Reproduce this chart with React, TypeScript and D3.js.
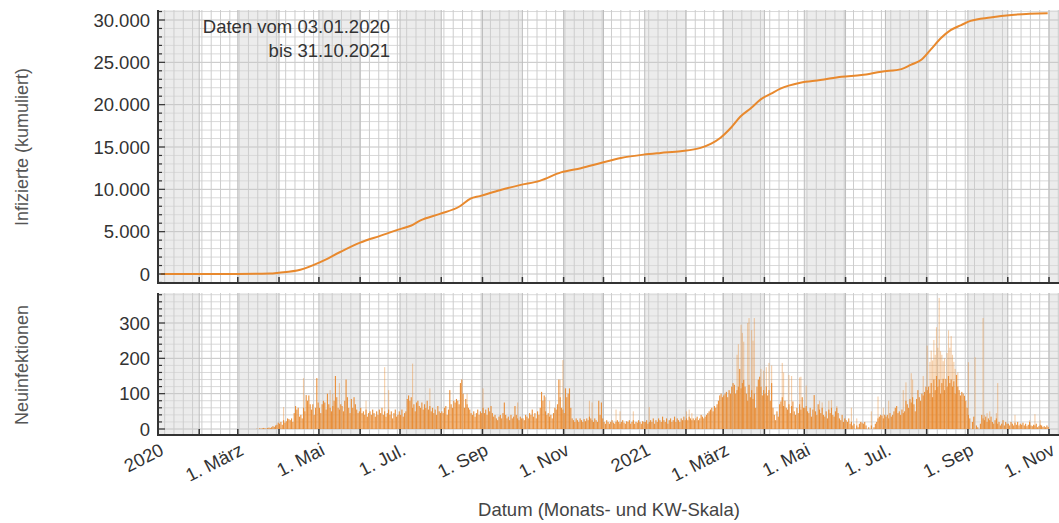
import React from 'react';
import * as d3 from 'd3';

const W = 1059;
const H = 523;
const FONT = '"Liberation Sans", Arial, sans-serif';

// kumulierte Infizierte
const kumDatum = [
  '2020-01-03', '2020-03-01', '2020-03-25', '2020-04-01', '2020-04-17', '2020-05-02', '2020-05-17',
  '2020-06-01', '2020-06-16', '2020-07-01', '2020-07-09', '2020-07-16', '2020-07-31', '2020-08-15',
  '2020-08-23', '2020-08-30', '2020-09-14', '2020-09-29', '2020-10-14', '2020-10-30', '2020-11-14',
  '2020-11-29', '2020-12-14', '2020-12-31', '2021-01-13', '2021-01-28', '2021-02-12', '2021-02-20',
  '2021-02-27', '2021-03-07', '2021-03-14', '2021-03-22', '2021-03-29', '2021-04-06', '2021-04-13',
  '2021-04-28', '2021-05-13', '2021-05-29', '2021-06-13', '2021-06-28', '2021-07-13', '2021-07-20',
  '2021-07-28', '2021-08-04', '2021-08-12', '2021-08-19', '2021-08-27', '2021-09-03', '2021-09-18',
  '2021-10-04', '2021-10-31',
];
const kumWert = [
  0, 5, 50, 150, 500, 1400, 2600,
  3700, 4500, 5300, 5700, 6300, 7100, 8000,
  8900, 9200, 9900, 10500, 11000, 12000, 12500,
  13100, 13700, 14100, 14300, 14500, 14900, 15400,
  16100, 17300, 18600, 19600, 20600, 21300, 21900,
  22600, 22900, 23300, 23500, 23900, 24200, 24700,
  25300, 26500, 27900, 28800, 29400, 29900, 30300,
  30600, 30800,
];

// Neuinfektionen pro Tag, je Monat ab dem 1.
const neuMonate = [
  '2020-03', '2020-04', '2020-05', '2020-06', '2020-07', '2020-08', '2020-09', '2020-10', '2020-11', '2020-12',
  '2021-01', '2021-02', '2021-03', '2021-04', '2021-05', '2021-06', '2021-07', '2021-08', '2021-09', '2021-10',
];
const neuWerte = [
  [0, 0, 0, 0, 0, 0, 0, 0, 0, 0, 0, 0, 0, 0, 1, 0, 2, 1, 2, 3, 2, 1, 3, 4, 3, 5, 8, 6, 10, 12, 18],
  [15, 20, 12, 25, 18, 22, 30, 28, 25, 30, 20, 45, 65, 55, 60, 35, 40, 30, 60, 50, 96, 80, 95, 70, 55, 70, 40, 60, 144, 75],
  [60, 45, 70, 80, 75, 55, 100, 70, 60, 50, 65, 80, 150, 90, 60, 55, 70, 65, 50, 80, 140, 90, 60, 45, 85, 60, 90, 70, 55, 45, 50],
  [60, 45, 50, 40, 55, 35, 45, 50, 40, 55, 45, 35, 50, 40, 55, 45, 60, 40, 50, 35, 45, 55, 40, 50, 30, 45, 55, 35, 40, 50],
  [40, 55, 35, 45, 50, 85, 95, 80, 90, 60, 70, 50, 75, 80, 65, 60, 75, 55, 70, 60, 80, 55, 65, 50, 60, 45, 55, 40, 65, 50, 45],
  [50, 45, 60, 65, 40, 55, 110, 70, 60, 80, 75, 85, 80, 70, 130, 140, 100, 60, 85, 70, 60, 55, 45, 40, 50, 35, 45, 55, 40, 50, 45],
  [60, 45, 55, 40, 60, 50, 65, 45, 35, 40, 30, 25, 35, 40, 30, 45, 75, 40, 30, 35, 25, 40, 30, 35, 65, 40, 30, 25, 35, 30],
  [30, 25, 40, 35, 30, 45, 40, 55, 35, 45, 30, 50, 40, 60, 105, 80, 95, 50, 40, 45, 35, 40, 30, 45, 60, 55, 70, 140, 90, 60, 55],
  [45, 115, 90, 100, 115, 60, 30, 25, 20, 30, 25, 20, 30, 25, 20, 28, 22, 30, 25, 35, 30, 25, 20, 30, 25, 20, 80, 40, 75, 30],
  [20, 15, 25, 20, 15, 20, 25, 18, 15, 20, 25, 20, 15, 20, 25, 18, 15, 22, 20, 25, 15, 20, 25, 15, 20, 18, 25, 20, 15, 22, 20],
  [20, 25, 15, 20, 25, 20, 30, 15, 25, 20, 30, 25, 20, 35, 25, 20, 30, 15, 25, 30, 20, 25, 35, 20, 30, 25, 20, 30, 25, 35, 25],
  [30, 25, 35, 30, 25, 30, 25, 30, 35, 25, 30, 40, 35, 30, 35, 40, 45, 50, 55, 60, 50, 65, 60, 70, 80, 95, 100, 90],
  [95, 100, 105, 90, 110, 100, 120, 130, 125, 100, 110, 120, 170, 115, 130, 139, 120, 100, 80, 125, 90, 110, 85, 100, 60, 120, 140, 148, 120, 95, 110],
  [100, 120, 95, 110, 80, 130, 60, 40, 25, 50, 35, 70, 78, 90, 65, 80, 60, 55, 70, 45, 65, 78, 50, 40, 60, 45, 70, 55, 90, 60],
  [60, 65, 50, 45, 60, 35, 55, 96, 50, 40, 70, 55, 45, 60, 40, 35, 50, 30, 55, 45, 60, 40, 35, 50, 60, 45, 30, 25, 40, 20, 30],
  [25, 20, 30, 15, 20, 10, 15, 0, 10, 5, 15, 20, 18, 15, 20, 10, 0, 5, 0, 10, 0, 5, 15, 20, 30, 35, 40, 38, 30, 40],
  [35, 40, 30, 45, 35, 40, 50, 60, 65, 45, 50, 40, 55, 45, 50, 80, 70, 60, 85, 75, 90, 70, 50, 85, 110, 90, 80, 100, 95, 105, 120],
  [110, 120, 100, 130, 90, 140, 110, 150, 120, 140, 100, 130, 142, 110, 142, 120, 150, 130, 140, 120, 135, 100, 153, 120, 110, 95, 105, 100, 94, 80, 60],
  [40, 30, 0, 20, 35, 0, 10, 5, 0, 15, 40, 30, 25, 35, 20, 30, 25, 35, 20, 15, 25, 30, 15, 20, 10, 15, 25, 10, 20, 15],
  [15, 10, 20, 15, 10, 18, 12, 20, 10, 15, 12, 18, 10, 15, 8, 12, 20, 10, 8, 12, 10, 15, 5, 8, 12, 10, 6, 8, 5, 10, 6],
];

// hellere Balken (Tage mit höheren Meldewerten)
const hellDatum = [
  '2020-04-04', '2020-04-19', '2020-05-09', '2020-05-11', '2020-05-16', '2020-06-05', '2020-06-19', '2020-06-22',
  '2020-07-10', '2020-07-23', '2020-08-20', '2020-09-01', '2020-09-27', '2020-10-18', '2020-10-21', '2020-10-29',
  '2020-10-31', '2020-11-20', '2020-11-22', '2020-12-10', '2020-12-13', '2020-12-23',
  '2021-01-04', '2021-02-01', '2021-02-03', '2021-02-05', '2021-03-11', '2021-03-12', '2021-03-14', '2021-03-15',
  '2021-03-16', '2021-03-19', '2021-03-20', '2021-03-22', '2021-03-23', '2021-03-24', '2021-03-29', '2021-03-31',
  '2021-04-02', '2021-04-04', '2021-04-06', '2021-04-14', '2021-04-15', '2021-04-19', '2021-04-21', '2021-04-27',
  '2021-04-28', '2021-05-02', '2021-05-12', '2021-05-14', '2021-05-19', '2021-05-21', '2021-05-25', '2021-06-05',
  '2021-06-09', '2021-06-20', '2021-06-25', '2021-06-29', '2021-07-03', '2021-07-14', '2021-07-16', '2021-07-20',
  '2021-07-21', '2021-07-29', '2021-08-01', '2021-08-03', '2021-08-04', '2021-08-05', '2021-08-06', '2021-08-07',
  '2021-08-08', '2021-08-09', '2021-08-10', '2021-08-11', '2021-08-12', '2021-08-13', '2021-08-14', '2021-08-16',
  '2021-08-17', '2021-08-18', '2021-08-19', '2021-08-20', '2021-08-21', '2021-08-22', '2021-08-24', '2021-09-01',
  '2021-09-06', '2021-09-12', '2021-09-13', '2021-09-15', '2021-09-17', '2021-09-22', '2021-09-23', '2021-10-06',
  '2021-10-17', '2021-10-21', '2021-10-25',
];
const hellWert = [
  62, 144, 110, 100, 130, 80, 175, 110,
  185, 115, 100, 115, 75, 90, 80, 140,
  195, 80, 75, 55, 50, 50,
  62, 50, 55, 45, 210, 240, 295, 272,
  247, 300, 314, 280, 250, 314, 170, 165,
  175, 187, 180, 187, 160, 153, 150, 146,
  148, 123, 80, 75, 80, 82, 65, 60,
  30, 50, 92, 60, 80, 110, 132, 158,
  140, 150, 236, 190, 222, 194, 252, 210,
  288, 230, 371, 220, 210, 192, 200, 215,
  279, 230, 263, 210, 190, 170, 160, 189,
  203, 314, 40, 45, 50, 45, 130, 40, 25,
  42, 25, 20,
];

const oberTicks = [0, 5000, 10000, 15000, 20000, 25000, 30000];
const unterTicks = [0, 100, 200, 300];
const xLabels = ['2020', '1. März', '1. Mai', '1. Jul.', '1. Sep', '1. Nov', '2021', '1. März', '1. Mai', '1. Jul.', '1. Sep', '1. Nov'];

const parse = d3.timeParse('%Y-%m-%d');
const de = d3.formatLocale({ decimal: ',', thousands: '.', grouping: [3], currency: ['', ' €'] });
const fmt = de.format(',');

const ORANGE = '#e8892e';

export default function App() {
  const left = 158;
  const right = W;
  const top1 = 10, bot1 = 283;
  const top2 = 293, bot2 = 435;

  const x = d3.scaleTime().domain([new Date(2020, 0, 1), new Date(2021, 10, 1)]).range([left, 1049]);
  const xEnd = x.invert(right);
  const y1 = d3.scaleLinear().domain([0, 30000]).range([274, 20]);
  const y2 = d3.scaleLinear().domain([0, 300]).range([429, 323]);

  const months = d3.timeMonth.range(new Date(2020, 0, 1), xEnd);
  const weeks = d3.timeMonday.range(new Date(2020, 0, 1), xEnd);
  const labelMonths = d3.timeMonth.every(2)!.range(new Date(2020, 0, 1), new Date(2021, 10, 2));

  const daily: { d: Date; v: number }[] = [];
  neuMonate.forEach((m, i) => {
    const start = parse(m + '-01')!;
    neuWerte[i].forEach((v, j) => daily.push({ d: d3.timeDay.offset(start, j), v }));
  });
  const hell = hellDatum.map((s, i) => ({ d: parse(s)!, v: hellWert[i] }));
  const kum = kumDatum.map((s, i) => ({ d: parse(s)!, v: kumWert[i] }));

  const line = d3.line<{ d: Date; v: number }>()
    .x(p => x(p.d))
    .y(p => y1(p.v))
    .curve(d3.curveMonotoneX);

  const bw = (x(new Date(2020, 5, 2)) - x(new Date(2020, 5, 1))) * 0.85;

  const minor1 = d3.range(-1000, 31001, 1000);
  const minor2 = d3.range(0, 381, 20);

  const panel = (top: number, bot: number, yScale: d3.ScaleLinear<number, number>, minor: number[], major: number[], key: string) => (
    <g key={key}>
      {months.filter(m => m.getMonth() % 2 === 0).map((m, i) => {
        const x0 = Math.max(left, x(m));
        const x1 = Math.min(right, x(d3.timeMonth.offset(m, 1)));
        return <rect key={i} x={x0} y={top} width={x1 - x0} height={bot - top} fill="#ececec" />;
      })}
      {minor.filter(v => yScale(v) > top && yScale(v) < bot).map(v => (
        <line key={'h' + v} x1={left} x2={right} y1={yScale(v)} y2={yScale(v)}
          stroke={major.includes(v) ? '#c4c4c4' : '#d9d9d9'} strokeWidth={1} />
      ))}
      {weeks.map((w, i) => (
        <line key={'w' + i} x1={x(w)} x2={x(w)} y1={top} y2={bot} stroke="#cdcdcd" strokeWidth={1} />
      ))}
      {months.map((m, i) => (
        <line key={'m' + i} x1={x(m)} x2={x(m)} y1={top} y2={bot} stroke="#bdbdbd" strokeWidth={1} />
      ))}
    </g>
  );

  const axes = (top: number, bot: number, yScale: d3.ScaleLinear<number, number>, minor: number[], major: number[]) => (
    <g>
      {minor.filter(v => yScale(v) > top && yScale(v) < bot).map(v => (
        <line key={'t' + v} x1={left} x2={left + (major.includes(v) ? 7 : 4)} y1={yScale(v)} y2={yScale(v)}
          stroke="#333" strokeWidth={1.2} />
      ))}
      {major.map(v => (
        <text key={'l' + v} x={150} y={yScale(v)} textAnchor="end" dominantBaseline="central"
          fontFamily={FONT} fontSize={18.5} fill="#333">{fmt(v)}</text>
      ))}
      {months.map((m, i) => (
        <line key={'mt' + i} x1={x(m)} x2={x(m)} y1={bot} y2={bot - 6} stroke="#333" strokeWidth={1.5} />
      ))}
      <line x1={left} x2={left} y1={top} y2={bot + 1} stroke="#333" strokeWidth={2} />
      <line x1={left - 1} x2={right} y1={bot} y2={bot} stroke="#333" strokeWidth={2} />
    </g>
  );

  return (
    <svg width={W} height={H} style={{ position: 'absolute', left: 0, top: 0, background: '#fff' }}>
      {panel(top1, bot1, y1, minor1, oberTicks, 'p1')}
      {panel(top2, bot2, y2, minor2, unterTicks, 'p2')}

      <path d={line(kum) ?? ''} fill="none" stroke={ORANGE} strokeWidth={2} />

      <g>
        {hell.map((p, i) => (
          <rect key={'h' + i} x={x(p.d)} y={y2(p.v)} width={bw} height={y2(0) - y2(p.v)} fill={ORANGE} opacity={0.4} />
        ))}
        {daily.filter(p => p.v > 0).map((p, i) => (
          <rect key={'d' + i} x={x(p.d)} y={y2(p.v)} width={bw} height={y2(0) - y2(p.v)} fill={ORANGE} opacity={0.92} />
        ))}
      </g>

      {axes(top1, bot1, y1, minor1, oberTicks)}
      {axes(top2, bot2, y2, minor2, unterTicks)}

      {labelMonths.map((m, i) => (
        <text key={'xl' + i} transform={`translate(${x(m) + 7},454) rotate(-27)`} textAnchor="end"
          fontFamily={FONT} fontSize={18.5} fill="#333">{xLabels[i]}</text>
      ))}

      <text x={390} y={33} textAnchor="end" fontFamily={FONT} fontSize={18.5} fill="#333">Daten vom 03.01.2020</text>
      <text x={390} y={57} textAnchor="end" fontFamily={FONT} fontSize={18.5} fill="#333">bis 31.10.2021</text>

      <text transform="translate(28,147) rotate(-90)" textAnchor="middle" fontFamily={FONT} fontSize={18} fill="#555">
        Infizierte (kumuliert)
      </text>
      <text transform="translate(28,365) rotate(-90)" textAnchor="middle" fontFamily={FONT} fontSize={18} fill="#555">
        Neuinfektionen
      </text>
      <text x={609} y={516} textAnchor="middle" fontFamily={FONT} fontSize={18.5} fill="#444">
        Datum (Monats- und KW-Skala)
      </text>
    </svg>
  );
}
